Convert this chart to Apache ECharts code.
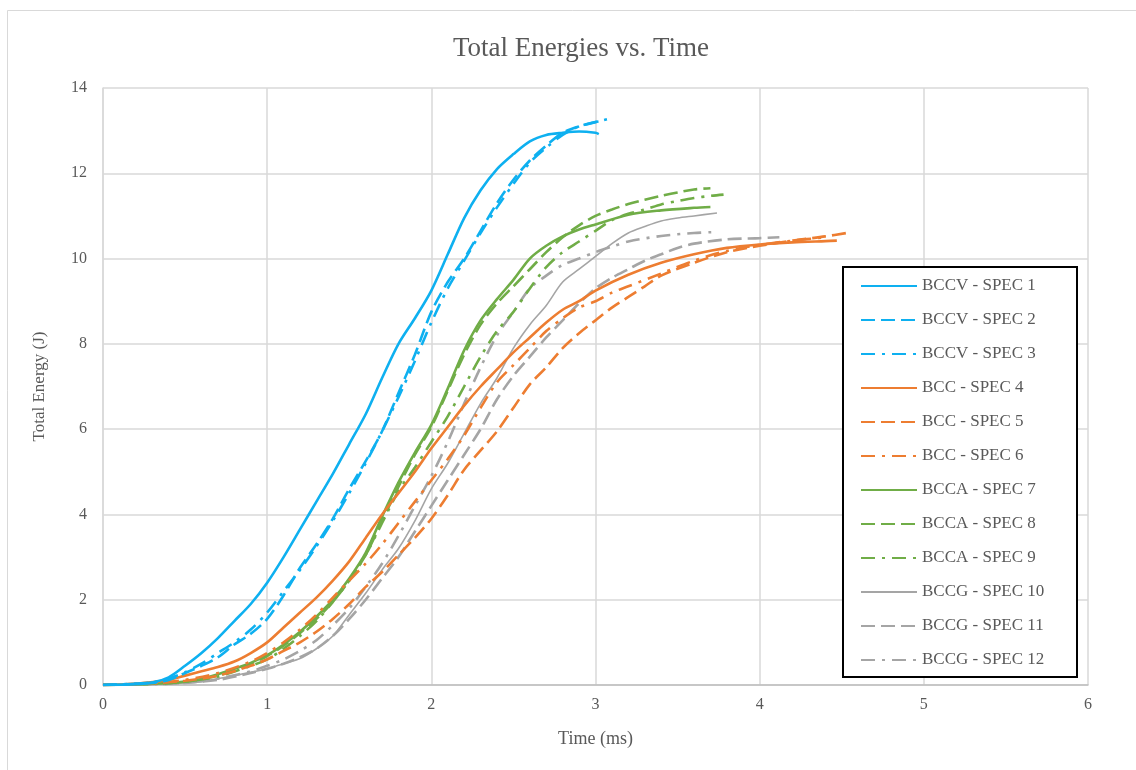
<!DOCTYPE html>
<html>
<head>
<meta charset="utf-8">
<title>Total Energies vs. Time</title>
<script src="https://cdn.jsdelivr.net/npm/echarts@6/dist/echarts.min.js"></script>
<style>
    html,body{margin:0;padding:0;background:#fff;}
    #eChart{width:1136px;height:770px;}
</style>
</head>
<body>
<div id="eChart"></div>
<script>
// 图例名称
var seriesNames = ['BCCV - SPEC 1', 'BCCV - SPEC 2', 'BCCV - SPEC 3',
    'BCC - SPEC 4', 'BCC - SPEC 5', 'BCC - SPEC 6',
    'BCCA - SPEC 7', 'BCCA - SPEC 8', 'BCCA - SPEC 9',
    'BCCG - SPEC 10', 'BCCG - SPEC 11', 'BCCG - SPEC 12'];

var xTicks = [0, 1, 2, 3, 4, 5, 6];
var yTicks = [0, 2, 4, 6, 8, 10, 12, 14];

// [time (ms), total energy (J)]
var spec1 = [[0,0],[0.2,0.02],[0.3,0.06],[0.4,0.18],[0.5,0.45],[0.6,0.75],[0.7,1.1],[0.8,1.5],[0.9,1.9],[1.0,2.4],
    [1.1,3.0],[1.2,3.65],[1.3,4.3],[1.4,4.95],[1.5,5.65],[1.6,6.35],[1.7,7.2],[1.8,8.0],[1.9,8.6],[2.0,9.25],
    [2.1,10.1],[2.2,10.95],[2.3,11.6],[2.4,12.1],[2.5,12.45],[2.6,12.75],[2.7,12.9],[2.8,12.95],[2.9,12.98],[3.0,12.95],[3.02,12.92]];
var spec2 = [[0,0],[0.3,0.05],[0.4,0.12],[0.5,0.28],[0.6,0.45],[0.7,0.65],[0.8,0.95],[0.9,1.2],[1.0,1.55],
    [1.1,2.1],[1.2,2.75],[1.3,3.3],[1.4,3.9],[1.5,4.6],[1.6,5.25],[1.7,5.95],[1.8,6.85],[1.9,7.75],[2.0,8.75],
    [2.1,9.45],[2.2,10.0],[2.3,10.65],[2.4,11.3],[2.5,11.85],[2.6,12.3],[2.7,12.65],[2.8,12.95],[2.9,13.1],[3.0,13.2],[3.03,13.22]];
var spec3 = [[0,0],[0.3,0.06],[0.4,0.15],[0.5,0.3],[0.6,0.5],[0.7,0.75],[0.8,1.0],[0.9,1.3],[1.0,1.7],
    [1.1,2.2],[1.2,2.7],[1.3,3.25],[1.4,3.85],[1.5,4.5],[1.6,5.2],[1.7,5.95],[1.8,6.75],[1.9,7.6],[2.0,8.5],
    [2.1,9.3],[2.2,9.95],[2.3,10.6],[2.4,11.2],[2.5,11.75],[2.6,12.25],[2.7,12.6],[2.8,12.9],[2.9,13.1],[3.0,13.2],[3.08,13.28]];
var spec4 = [[0,0],[0.2,0.03],[0.4,0.12],[0.5,0.22],[0.6,0.32],[0.7,0.42],[0.8,0.55],[0.9,0.75],[1.0,1.0],
    [1.1,1.35],[1.2,1.7],[1.3,2.05],[1.4,2.45],[1.5,2.9],[1.6,3.45],[1.7,4.0],[1.8,4.5],[1.9,5.0],[2.0,5.55],
    [2.1,6.05],[2.2,6.55],[2.3,7.0],[2.4,7.4],[2.5,7.8],[2.6,8.15],[2.7,8.5],[2.8,8.8],[2.9,9.0],[3.0,9.25],
    [3.2,9.62],[3.4,9.9],[3.6,10.1],[3.8,10.25],[4.0,10.33],[4.2,10.38],[4.4,10.41],[4.47,10.42]];
var spec5 = [[0,0],[0.3,0.04],[0.5,0.1],[0.7,0.22],[0.9,0.45],[1.0,0.6],[1.1,0.8],[1.2,1.0],[1.3,1.25],[1.4,1.55],
    [1.5,1.9],[1.6,2.3],[1.7,2.65],[1.8,3.05],[1.9,3.45],[2.0,3.9],[2.1,4.45],[2.2,5.05],[2.3,5.5],[2.4,5.95],
    [2.5,6.5],[2.6,7.05],[2.7,7.45],[2.8,7.9],[2.9,8.25],[3.0,8.55],[3.1,8.85],[3.2,9.1],[3.3,9.35],[3.4,9.6],
    [3.6,9.9],[3.8,10.15],[4.0,10.3],[4.2,10.42],[4.4,10.52],[4.53,10.6]];
var spec6 = [[0,0],[0.3,0.04],[0.5,0.12],[0.7,0.28],[0.9,0.55],[1.0,0.75],[1.1,1.0],[1.2,1.3],[1.3,1.65],[1.4,2.05],
    [1.5,2.45],[1.6,2.85],[1.7,3.3],[1.8,3.8],[1.9,4.3],[2.0,4.8],[2.1,5.3],[2.2,5.85],[2.3,6.5],[2.4,7.1],
    [2.5,7.5],[2.6,7.9],[2.7,8.3],[2.8,8.6],[2.9,8.85],[3.0,9.0],[3.1,9.2],[3.2,9.35],[3.4,9.65],[3.6,9.95],
    [3.8,10.18],[4.0,10.32],[4.2,10.42],[4.4,10.5]];
var spec7 = [[0,0],[0.3,0.03],[0.5,0.08],[0.6,0.14],[0.7,0.25],[0.8,0.38],[0.9,0.52],[1.0,0.7],[1.1,0.95],[1.2,1.25],
    [1.3,1.6],[1.4,2.0],[1.5,2.5],[1.6,3.1],[1.7,3.95],[1.8,4.75],[1.9,5.45],[2.0,6.1],[2.1,6.95],[2.2,7.85],
    [2.3,8.55],[2.4,9.05],[2.5,9.5],[2.6,10.0],[2.7,10.3],[2.8,10.52],[2.9,10.68],[3.0,10.8],[3.2,11.03],[3.4,11.13],
    [3.6,11.19],[3.7,11.21]];
var spec8 = [[0,0],[0.3,0.03],[0.5,0.08],[0.7,0.22],[0.9,0.5],[1.0,0.68],[1.1,0.92],[1.2,1.22],[1.3,1.55],[1.4,1.95],
    [1.5,2.45],[1.6,3.05],[1.7,3.85],[1.8,4.65],[1.9,5.4],[2.0,6.05],[2.1,6.9],[2.2,7.75],[2.3,8.45],[2.4,8.95],
    [2.5,9.35],[2.6,9.75],[2.7,10.15],[2.8,10.5],[2.9,10.78],[3.0,11.0],[3.1,11.15],[3.2,11.28],[3.3,11.38],[3.4,11.47],
    [3.5,11.55],[3.6,11.62],[3.7,11.65]];
var spec9 = [[0,0],[0.3,0.03],[0.5,0.08],[0.7,0.2],[0.9,0.45],[1.0,0.6],[1.1,0.85],[1.2,1.15],[1.3,1.5],[1.4,1.95],
    [1.5,2.45],[1.6,3.05],[1.7,3.8],[1.8,4.55],[1.9,5.1],[2.0,5.7],[2.1,6.3],[2.2,7.0],[2.3,7.7],[2.4,8.3],
    [2.5,8.75],[2.6,9.3],[2.7,9.8],[2.8,10.15],[2.9,10.4],[3.0,10.65],[3.1,10.9],[3.2,11.05],[3.3,11.15],[3.4,11.27],
    [3.5,11.35],[3.6,11.42],[3.7,11.47],[3.78,11.5]];
var spec10 = [[0,0],[0.3,0.02],[0.5,0.05],[0.6,0.08],[0.7,0.15],[0.8,0.22],[0.9,0.3],[1.0,0.38],[1.1,0.5],[1.2,0.62],
    [1.3,0.85],[1.4,1.15],[1.5,1.65],[1.6,2.15],[1.7,2.7],[1.8,3.2],[1.9,3.85],[2.0,4.6],[2.1,5.2],[2.2,5.9],
    [2.3,6.6],[2.4,7.2],[2.5,7.9],[2.6,8.45],[2.7,8.9],[2.8,9.45],[2.9,9.75],[3.0,10.05],[3.1,10.35],[3.2,10.6],
    [3.3,10.75],[3.4,10.88],[3.5,10.95],[3.6,11.0],[3.74,11.07]];
var spec11 = [[0,0],[0.3,0.02],[0.5,0.05],[0.7,0.12],[0.9,0.28],[1.0,0.38],[1.1,0.5],[1.2,0.65],[1.3,0.85],[1.4,1.15],
    [1.5,1.55],[1.6,2.0],[1.7,2.5],[1.8,3.0],[1.9,3.6],[2.0,4.2],[2.1,4.8],[2.2,5.4],[2.3,6.0],[2.4,6.7],
    [2.5,7.25],[2.6,7.7],[2.7,8.15],[2.8,8.55],[2.9,8.95],[3.0,9.3],[3.1,9.55],[3.2,9.75],[3.3,9.95],[3.4,10.1],
    [3.5,10.25],[3.6,10.35],[3.8,10.45],[4.0,10.48],[4.12,10.5]];
var spec12 = [[0,0],[0.3,0.02],[0.5,0.05],[0.7,0.15],[0.9,0.32],[1.0,0.45],[1.1,0.6],[1.2,0.8],[1.3,1.05],[1.4,1.4],
    [1.5,1.8],[1.6,2.3],[1.7,2.85],[1.8,3.5],[1.9,4.2],[2.0,4.9],[2.1,5.7],[2.2,6.6],[2.3,7.45],[2.4,8.2],
    [2.5,8.75],[2.6,9.3],[2.7,9.6],[2.8,9.85],[2.9,10.0],[3.0,10.15],[3.1,10.28],[3.2,10.4],[3.4,10.53],[3.6,10.6],[3.72,10.62]];

var chartPageObj = {
    chart: null,
    font: '"Liberation Serif", "Times New Roman", serif',
    colors: ['#0eb0f0', '#ed7d31', '#70ad47', '#a5a5a5'],
    dashes: ['solid', [14, 6], [14, 7, 3, 7]],
    init: function(){
        this.chart = echarts.init(document.getElementById('eChart'), null, {renderer: 'canvas'});
        this.chart.setOption(this.buildOption());
    },
    buildSeries: function(){
        var _this = this;
        var allData = [spec1, spec2, spec3, spec4, spec5, spec6, spec7, spec8, spec9, spec10, spec11, spec12];
        return allData.map(function(item, index){
            var group = Math.floor(index / 3);
            var kind = index % 3;
            return {
                name: seriesNames[index],
                type: 'line',
                data: item,
                smooth: 0.3,
                symbol: 'none',
                z: 10 - group,
                lineStyle: {
                    color: _this.colors[group],
                    width: (group === 3 && kind === 0) ? 1.6 : 2.6,
                    type: _this.dashes[kind]
                },
                itemStyle: {color: _this.colors[group]}
            };
        });
    },
    buildOption: function(){
        var font = this.font;
        return {
            animation: false,
            backgroundColor: '#fff',
            title: {
                text: 'Total Energies vs. Time',
                left: 576,
                top: 30,
                textAlign: 'center',
                textStyle: {fontFamily: font, fontSize: 27, fontWeight: 'normal', color: '#595959'}
            },
            graphic: [{
                type: 'rect',
                left: 5,
                top: 8,
                shape: {width: 1150, height: 780},
                style: {fill: 'none', stroke: '#d9d9d9', lineWidth: 1}
            }],
            legend: {
                orient: 'vertical',
                left: 843,
                top: 267,
                padding: [9, 7, 7, 17],
                itemWidth: 56,
                itemHeight: 14,
                itemGap: 14,
                backgroundColor: '#fff',
                borderColor: '#000',
                borderWidth: 2,
                borderRadius: 0,
                // 只显示线型，不显示圆点
                itemStyle: {opacity: 0},
                data: seriesNames,
                textStyle: {fontFamily: font, fontSize: 17, color: '#595959', lineHeight: 20, width: 148}
            },
            grid: {left: 103, right: 48, top: 88, bottom: 85, containLabel: false},
            xAxis: {
                type: 'value',
                min: xTicks[0],
                max: xTicks[xTicks.length - 1],
                interval: 1,
                name: 'Time (ms)',
                nameLocation: 'middle',
                nameGap: 45,
                nameTextStyle: {fontFamily: font, fontSize: 18, color: '#595959'},
                axisLine: {show: true, lineStyle: {color: '#bfbfbf', width: 1.5}},
                axisTick: {show: false},
                axisLabel: {fontFamily: font, fontSize: 16, color: '#595959', margin: 12},
                splitLine: {show: true, lineStyle: {color: '#d9d9d9', width: 1.5}}
            },
            yAxis: {
                type: 'value',
                min: yTicks[0],
                max: yTicks[yTicks.length - 1],
                interval: 2,
                name: 'Total Energy (J)',
                nameLocation: 'middle',
                nameGap: 55,
                nameTextStyle: {fontFamily: font, fontSize: 17, color: '#595959'},
                axisLine: {show: true, lineStyle: {color: '#d9d9d9', width: 1.5}},
                axisTick: {show: false},
                axisLabel: {fontFamily: font, fontSize: 16, color: '#595959', margin: 16},
                splitLine: {show: true, lineStyle: {color: '#d9d9d9', width: 1.5}}
            },
            series: this.buildSeries()
        };
    }
};

chartPageObj.init();
</script>
</body>
</html>
